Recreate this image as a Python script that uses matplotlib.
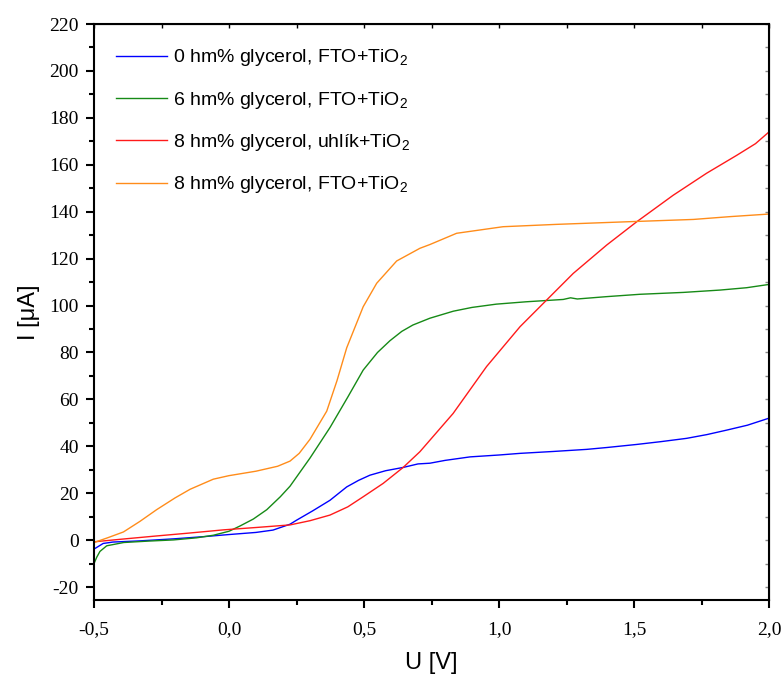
import numpy as np
import matplotlib
matplotlib.use('Agg')
import matplotlib.pyplot as plt
from matplotlib.ticker import MultipleLocator, FuncFormatter

plt.rcParams['font.family'] = ['Liberation Sans', 'DejaVu Sans']
plt.rcParams['mathtext.fontset'] = 'custom'
plt.rcParams['mathtext.rm'] = 'Liberation Sans'
plt.rcParams['mathtext.it'] = 'Liberation Sans:italic'

# I-V curves (U in V, I in uA)
u_blue = [-0.5, -0.466, -0.43, -0.33, -0.2, -0.083, 0.0, 0.1, 0.163, 0.226, 0.25,
          0.31, 0.374, 0.436, 0.48, 0.522, 0.58, 0.645, 0.7, 0.744, 0.8, 0.893,
          1.0, 1.078, 1.2, 1.325, 1.4, 1.51, 1.6, 1.695, 1.77, 1.843, 1.92, 2.0]
i_blue = [-3.8, -1.4, -0.8, -0.3, 0.6, 1.6, 2.4, 3.3, 4.3, 6.8, 8.5,
          12.5, 17.0, 22.7, 25.5, 27.7, 29.6, 31.0, 32.5, 32.8, 34.0, 35.5,
          36.3, 37.0, 37.8, 38.7, 39.5, 40.8, 42.0, 43.4, 45.0, 46.9, 49.0, 52.0]

u_green = [-0.5, -0.49, -0.478, -0.453, -0.39, -0.3, -0.206, -0.12, -0.058, 0.0, 0.04,
           0.09, 0.14, 0.19, 0.226, 0.3, 0.374, 0.44, 0.497, 0.55, 0.596, 0.64,
           0.681, 0.744, 0.831, 0.9, 0.99, 1.10, 1.238, 1.265, 1.29, 1.399, 1.522,
           1.683, 1.819, 1.917, 2.0]
i_green = [-10.0, -7.3, -4.8, -2.4, -1.0, -0.4, 0.1, 1.0, 2.1, 3.8, 6.0,
           9.0, 13.0, 18.5, 23.0, 35.0, 48.0, 61.0, 72.5, 80.0, 85.0, 89.0,
           91.7, 94.6, 97.6, 99.2, 100.6, 101.6, 102.6, 103.3, 102.8, 103.8, 104.8,
           105.6, 106.6, 107.6, 109.0]

u_red = [-0.5, -0.4, -0.268, -0.15, -0.02, 0.1, 0.226, 0.3, 0.374, 0.44, 0.497,
         0.571, 0.645, 0.707, 0.744, 0.830, 0.954, 1.078, 1.176, 1.275, 1.399,
         1.510, 1.645, 1.769, 1.88, 1.95, 2.0]
i_red = [-0.7, 0.4, 1.8, 3.0, 4.4, 5.4, 6.5, 8.3, 10.7, 14.2, 18.5,
         24.2, 31.0, 37.7, 42.6, 54.0, 74.0, 91.0, 102.3, 113.7, 125.8,
         135.7, 147.0, 156.4, 164.0, 169.0, 174.0]

u_orange = [-0.5, -0.45, -0.391, -0.33, -0.268, -0.2, -0.144, -0.058, 0.0, 0.10,
            0.18, 0.226, 0.26, 0.3, 0.362, 0.40, 0.436, 0.497, 0.547, 0.621,
            0.707, 0.744, 0.843, 1.015, 1.213, 1.473, 1.72, 1.856, 2.0]
i_orange = [-1.0, 1.0, 3.5, 8.0, 13.0, 18.0, 21.7, 26.0, 27.5, 29.4,
            31.5, 33.7, 37.0, 43.0, 55.0, 68.0, 82.0, 99.5, 109.5, 119.0,
            124.4, 126.0, 130.8, 133.6, 134.6, 135.7, 136.7, 137.9, 139.0]

series = [
    (u_blue, i_blue, '#0000ff', '0 hm% glycerol, FTO+TiO$_2$'),
    (u_green, i_green, '#168a16', '6 hm% glycerol, FTO+TiO$_2$'),
    (u_red, i_red, '#ff1a1a', '8 hm% glycerol, uhlík+TiO$_2$'),
    (u_orange, i_orange, '#ff8c1a', '8 hm% glycerol, FTO+TiO$_2$'),
]

fig = plt.figure(figsize=(7.82, 6.84), dpi=100)
ax = fig.add_axes([94 / 782, 84 / 684, 675 / 782, 576 / 684])

for u, i, c, lab in series:
    ax.plot(u, i, color=c, lw=1.0, label=lab)

ax.set_xlim(-0.5, 2.0)
ax.set_ylim(-25.5, 220)
ax.xaxis.set_major_locator(MultipleLocator(0.5))
ax.xaxis.set_minor_locator(MultipleLocator(0.25))
ax.yaxis.set_major_locator(MultipleLocator(20))
ax.yaxis.set_minor_locator(MultipleLocator(10))
ax.xaxis.set_major_formatter(FuncFormatter(lambda v, p: f'{v:.1f}'.replace('.', ',')))
ax.yaxis.set_major_formatter(FuncFormatter(lambda v, p: f'{v:.0f}'))

for s in ax.spines.values():
    s.set_linewidth(1.5)
ax.tick_params(which='major', direction='out', length=6, width=1.5, pad=5,
               labelsize=14, labelfontfamily='Liberation Serif')
ax.tick_params(which='minor', direction='out', length=3.5, width=1.5)
ax.tick_params(axis='x', which='major', pad=9)

# small inward ticks on the top and right spines
top = ax.secondary_xaxis('top')
top.xaxis.set_major_locator(MultipleLocator(0.5))
top.xaxis.set_minor_locator(MultipleLocator(0.25))
top.tick_params(which='both', direction='in', length=3, width=1.0, labeltop=False)
right = ax.secondary_yaxis('right')
right.yaxis.set_major_locator(MultipleLocator(20))
right.yaxis.set_minor_locator(MultipleLocator(10))
right.tick_params(which='both', direction='in', length=3, width=1.0,
                  color='#888888', labelright=False)

ax.set_xlabel('U [V]', fontsize=17, labelpad=10)
ax.set_ylabel('I [\u03bcA]', fontsize=17, labelpad=7)

ax.legend(loc='upper left', bbox_to_anchor=(0.021, 0.973), frameon=False,
          fontsize=14, handlelength=2.6, handletextpad=0.35, labelspacing=1.1,
          borderaxespad=0)

fig.savefig('out.png', dpi=100)
